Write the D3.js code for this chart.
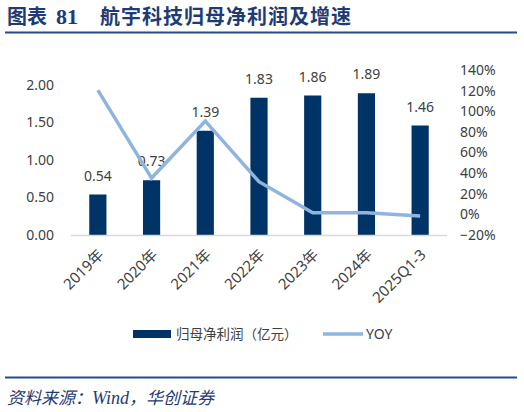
<!DOCTYPE html>
<html>
<head>
<meta charset="utf-8">
<script src="https://cdn.jsdelivr.net/npm/d3@7"></script>
<style>
  body { margin: 0; background: #fff; }
  svg { display: block; }
</style>
</head>
<body>
<svg id="chart" width="524" height="412"></svg>
<script>
// data
var categories = ["2019年", "2020年", "2021年", "2022年", "2023年", "2024年", "2025Q1-3"];
var profit = [0.54, 0.73, 1.39, 1.83, 1.86, 1.89, 1.46];
var yoy = [1.205, 0.352, 0.904, 0.317, 0.016, 0.016, -0.016];
var leftTicks = [0, 0.5, 1.0, 1.5, 2.0];
var rightTicks = [-0.2, 0, 0.2, 0.4, 0.6, 0.8, 1.0, 1.2, 1.4];

var barColor = "#003366";
var lineColor = "#8fb4de";
var textColor = "#404040";
var font = "'Noto Sans', 'Noto Sans CJK SC', sans-serif";

var svg = d3.select("#chart");

// title
var title = svg.append("text")
  .attr("x", 7).attr("y", 24)
  .attr("fill", "#1f3b73")
  .attr("font-weight", "bold")
  .attr("font-size", 20);
title.append("tspan").attr("font-family", "'Noto Sans CJK SC'").text("图表");
title.append("tspan").attr("x", 56).attr("font-family", "'Liberation Serif', serif").attr("font-size", 22).text("81");
title.append("tspan").attr("x", 100).attr("font-family", "'Noto Sans CJK SC'").attr("letter-spacing", 1).text("航宇科技归母净利润及增速");

svg.append("line")
  .attr("x1", 5).attr("x2", 517).attr("y1", 32.5).attr("y2", 32.5)
  .attr("stroke", "#1f4e8c").attr("stroke-width", 2);

// scales
var x = d3.scaleBand()
  .domain(categories)
  .range([71, 447])
  .paddingInner(0.68)
  .paddingOuter(0.34);

var yLeft = d3.scaleLinear()
  .domain([0, 2.2])
  .range([235, 70]);

var yRight = d3.scaleLinear()
  .domain([-0.2, 1.4])
  .range([235, 70]);

// left axis
var leftAxis = svg.append("g")
  .attr("transform", "translate(54,0)")
  .call(d3.axisLeft(yLeft).tickValues(leftTicks).tickFormat(d3.format(".2f")).tickSize(0).tickPadding(0));
leftAxis.select(".domain").remove();
leftAxis.selectAll("text")
  .attr("font-family", font).attr("font-size", 14).attr("fill", textColor);

// right axis
var rightAxis = svg.append("g")
  .attr("transform", "translate(460,0)")
  .call(d3.axisRight(yRight).tickValues(rightTicks).tickFormat(d3.format(".0%")).tickSize(0).tickPadding(0));
rightAxis.select(".domain").remove();
rightAxis.selectAll("text")
  .attr("font-family", font).attr("font-size", 14).attr("fill", textColor);

// bars
svg.selectAll("rect.bar")
  .data(profit)
  .enter()
  .append("rect")
    .attr("class", "bar")
    .attr("x", function(d, i) { return x(categories[i]); })
    .attr("width", x.bandwidth())
    .attr("y", function(d) { return yLeft(d); })
    .attr("height", function(d) { return yLeft(0) - yLeft(d); })
    .attr("fill", barColor);

// baseline
svg.append("line")
  .attr("x1", 71).attr("x2", 447).attr("y1", 235.5).attr("y2", 235.5)
  .attr("stroke", "#d9d9d9").attr("stroke-width", 1.5);

// bar labels
svg.selectAll("text.val")
  .data(profit)
  .enter()
  .append("text")
    .attr("class", "val")
    .attr("x", function(d, i) { return x(categories[i]) + x.bandwidth() / 2; })
    .attr("y", function(d) { return yLeft(d) - 14; })
    .attr("text-anchor", "middle")
    .attr("font-family", font).attr("font-size", 14).attr("fill", textColor)
    .text(function(d) { return d.toFixed(2); });

// yoy line
var line = d3.line()
  .x(function(d, i) { return x(categories[i]) + x.bandwidth() / 2; })
  .y(function(d) { return yRight(d); });

svg.append("path")
  .datum(yoy)
  .attr("d", line)
  .attr("fill", "none")
  .attr("stroke", lineColor)
  .attr("stroke-width", 3.5);

// x labels, rotated
svg.selectAll("text.cat")
  .data(categories)
  .enter()
  .append("text")
    .attr("class", "cat")
    .attr("transform", function(d) {
      return "translate(" + (x(d) + x.bandwidth() / 2 + 3) + ",252) rotate(-45)";
    })
    .attr("text-anchor", "end")
    .attr("dy", "0.35em")
    .attr("font-family", font).attr("font-size", 15).attr("fill", textColor)
    .text(function(d) { return d; });

// legend
svg.append("rect")
  .attr("x", 133).attr("y", 330).attr("width", 38).attr("height", 8)
  .attr("fill", barColor);
svg.append("text")
  .attr("x", 176).attr("y", 339)
  .attr("font-family", "'Noto Sans CJK SC', sans-serif").attr("font-size", 13.5).attr("fill", textColor)
  .text("归母净利润（亿元）");
svg.append("line")
  .attr("x1", 323).attr("x2", 363).attr("y1", 334).attr("y2", 334)
  .attr("stroke", lineColor).attr("stroke-width", 3.5);
svg.append("text")
  .attr("x", 366).attr("y", 339)
  .attr("font-family", font).attr("font-size", 14).attr("fill", textColor)
  .text("YOY");

// footer
svg.append("line")
  .attr("x1", 5).attr("x2", 517).attr("y1", 377.5).attr("y2", 377.5)
  .attr("stroke", "#1f4e8c").attr("stroke-width", 2);
var src = svg.append("text")
  .attr("x", 7).attr("y", 404)
  .attr("font-style", "italic")
  .attr("font-size", 17).attr("fill", "#1f3b73")
  .attr("font-family", "'Noto Sans CJK SC', sans-serif");
src.append("tspan").text("资料来源：");
src.append("tspan").attr("font-family", "'Liberation Serif', serif").attr("font-size", 18).text("Wind");
src.append("tspan").text("，华创证券");
</script>
</body>
</html>
